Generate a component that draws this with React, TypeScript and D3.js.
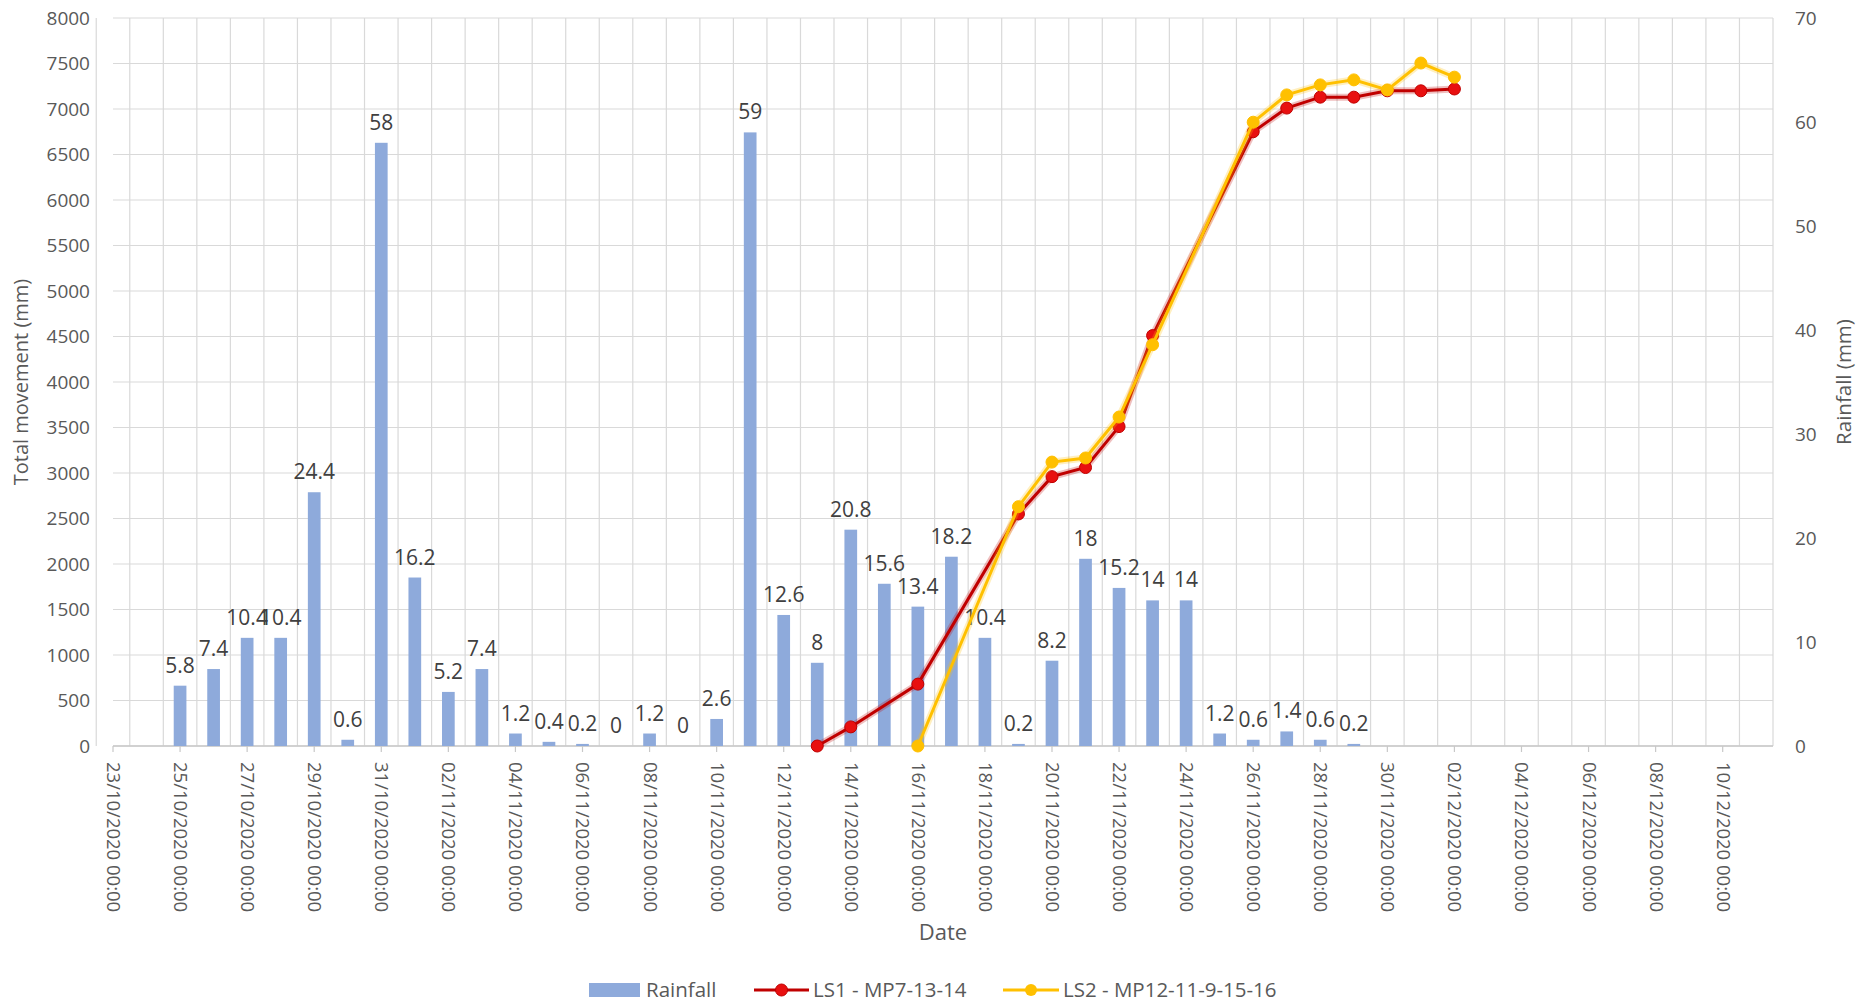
import React from 'react';
import * as d3 from 'd3';

// Rainfall (mm), one bar per day
const rainDates = [
  '2020-10-25', '2020-10-26', '2020-10-27', '2020-10-28', '2020-10-29', '2020-10-30',
  '2020-10-31', '2020-11-01', '2020-11-02', '2020-11-03', '2020-11-04', '2020-11-05',
  '2020-11-06', '2020-11-07', '2020-11-08', '2020-11-09', '2020-11-10', '2020-11-11',
  '2020-11-12', '2020-11-13', '2020-11-14', '2020-11-15', '2020-11-16', '2020-11-17',
  '2020-11-18', '2020-11-19', '2020-11-20', '2020-11-21', '2020-11-22', '2020-11-23',
  '2020-11-24', '2020-11-25', '2020-11-26', '2020-11-27', '2020-11-28', '2020-11-29',
];
const rainValues = [
  5.8, 7.4, 10.4, 10.4, 24.4, 0.6,
  58, 16.2, 5.2, 7.4, 1.2, 0.4,
  0.2, 0, 1.2, 0, 2.6, 59,
  12.6, 8, 20.8, 15.6, 13.4, 18.2,
  10.4, 0.2, 8.2, 18, 15.2, 14,
  14, 1.2, 0.6, 1.4, 0.6, 0.2,
];

// Total movement (mm)
const ls1Dates = [
  '2020-11-13', '2020-11-14', '2020-11-16', '2020-11-19', '2020-11-20', '2020-11-21',
  '2020-11-22', '2020-11-23', '2020-11-26', '2020-11-27', '2020-11-28', '2020-11-29',
  '2020-11-30', '2020-12-01', '2020-12-02',
];
const ls1Values = [0, 210, 680, 2550, 2960, 3060, 3510, 4510, 6750, 7010, 7130, 7130, 7200, 7200, 7220];

const ls2Dates = [
  '2020-11-16', '2020-11-19', '2020-11-20', '2020-11-21', '2020-11-22', '2020-11-23',
  '2020-11-26', '2020-11-27', '2020-11-28', '2020-11-29', '2020-11-30', '2020-12-01',
  '2020-12-02',
];
const ls2Values = [0, 2630, 3120, 3165, 3615, 4410, 6855, 7155, 7265, 7320, 7210, 7505, 7350];

const leftTicks = d3.range(0, 8001, 500);
const rightTicks = [0, 10, 20, 30, 40, 50, 60, 70];

const W = 1866;
const H = 1002;
const FONT = '"Open Sans", "Noto Sans", sans-serif';
const GRID = '#d9d9d9';
const TEXT = '#595959';

const parse = d3.utcParse('%Y-%m-%d');
const fmt = d3.utcFormat('%d/%m/%Y %H:%M');

export default function App() {
  const left = 113;
  const right = 1773;
  const top = 18;
  const bottom = 746;

  const start = parse('2020-10-23')!;
  const end = d3.utcHour.offset(parse('2020-12-11')!, 12);
  const x = d3.scaleUtc().domain([start, end]).range([left, right]);
  const yL = d3.scaleLinear().domain([0, 8000]).range([bottom, top]);
  const yR = d3.scaleLinear().domain([0, 70]).range([bottom, top]);

  const gridDays = d3.range(0, 51).map(k => d3.utcHour.offset(start, k * 24 - 12));
  const labelDays = d3.range(0, 49, 2).map(k => d3.utcDay.offset(start, k));

  const barW = 12.7;
  const rain = rainDates.map((d, i) => ({ date: parse(d)!, value: rainValues[i] }));
  const s1 = ls1Dates.map((d, i) => ({ date: parse(d)!, value: ls1Values[i] }));
  const s2 = ls2Dates.map((d, i) => ({ date: parse(d)!, value: ls2Values[i] }));

  const line = d3
    .line<{ date: Date; value: number }>()
    .x(d => x(d.date))
    .y(d => yL(d.value));

  const series = [
    { data: s1, stroke: '#c00000', fill: '#e81010' },
    { data: s2, stroke: '#ffc000', fill: '#ffc000' },
  ];

  return (
    <svg
      width={W}
      height={H}
      style={{ position: 'absolute', left: 0, top: 0, background: '#fff', fontFamily: FONT }}
    >
      {/* grid */}
      {leftTicks.map(t => (
        <line key={'h' + t} x1={left} x2={right} y1={yL(t)} y2={yL(t)} stroke={GRID} strokeWidth={1.2} />
      ))}
      {gridDays.map((d, i) => (
        <line key={'v' + i} x1={x(d)} x2={x(d)} y1={top} y2={bottom} stroke={GRID} strokeWidth={1.2} />
      ))}
      <line x1={left} x2={right} y1={bottom} y2={bottom} stroke="#c8c8c8" strokeWidth={1.4} />

      {/* x ticks and labels */}
      {labelDays.map((d, i) => (
        <g key={'xl' + i} transform={`translate(${x(d)},${bottom})`}>
          <line y1={0} y2={6} stroke="#c8c8c8" strokeWidth={1.2} />
          <text
            transform="translate(-6,16) rotate(90)"
            fontSize={18.5}
            fill={TEXT}
            textAnchor="start"
          >
            {fmt(d)}
          </text>
        </g>
      ))}

      {/* left axis */}
      {leftTicks.map(t => (
        <text key={'yl' + t} x={90} y={yL(t)} dy="0.35em" textAnchor="end" fontSize={19} fill={TEXT}>
          {t}
        </text>
      ))}
      {/* right axis */}
      {rightTicks.map(t => (
        <text key={'yr' + t} x={1795} y={yR(t)} dy="0.35em" textAnchor="start" fontSize={19} fill={TEXT}>
          {t}
        </text>
      ))}

      {/* bars */}
      {rain.map((d, i) => (
        <rect
          key={'b' + i}
          x={x(d.date) - barW / 2}
          y={yR(d.value)}
          width={barW}
          height={bottom - yR(d.value)}
          fill="#8eaadb"
        />
      ))}
      {rain.map((d, i) => (
        <text
          key={'bl' + i}
          x={x(d.date)}
          y={yR(d.value) - 13}
          textAnchor="middle"
          fontSize={21}
          fill="#404040"
        >
          {d.value}
        </text>
      ))}

      {/* lines */}
      {series.map((s, i) => (
        <g key={'s' + i}>
          <path d={line(s.data) || ''} fill="none" stroke={s.stroke} strokeOpacity={0.25} strokeWidth={7} />
          <path d={line(s.data) || ''} fill="none" stroke={s.stroke} strokeWidth={3} />
          {s.data.map((d, j) => (
            <circle key={j} cx={x(d.date)} cy={yL(d.value)} r={6} fill={s.fill} stroke={s.stroke} strokeWidth={1} />
          ))}
        </g>
      ))}

      {/* axis titles */}
      <text
        transform={`translate(28,${(top + bottom) / 2}) rotate(-90)`}
        textAnchor="middle"
        fontSize={20}
        fill={TEXT}
      >
        Total movement  (mm)
      </text>
      <text
        transform={`translate(1851,${(top + bottom) / 2}) rotate(-90)`}
        textAnchor="middle"
        fontSize={20.5}
        fill={TEXT}
      >
        Rainfall (mm)
      </text>
      <text x={(left + right) / 2} y={940} textAnchor="middle" fontSize={22} fill={TEXT}>
        Date
      </text>

      {/* legend */}
      <g fontSize={20.5} fill={TEXT}>
        <rect x={589} y={983} width={51} height={14} fill="#8eaadb" />
        <text x={646} y={997}>Rainfall</text>
        <line x1={754} x2={809} y1={990} y2={990} stroke="#c00000" strokeWidth={3} />
        <circle cx={781.5} cy={990} r={6} fill="#e81010" stroke="#c00000" />
        <text x={813} y={997}>LS1 - MP7-13-14</text>
        <line x1={1003} x2={1059} y1={990} y2={990} stroke="#ffc000" strokeWidth={3} />
        <circle cx={1031} cy={990} r={6} fill="#ffc000" />
        <text x={1063} y={997}>LS2 - MP12-11-9-15-16</text>
      </g>
    </svg>
  );
}
